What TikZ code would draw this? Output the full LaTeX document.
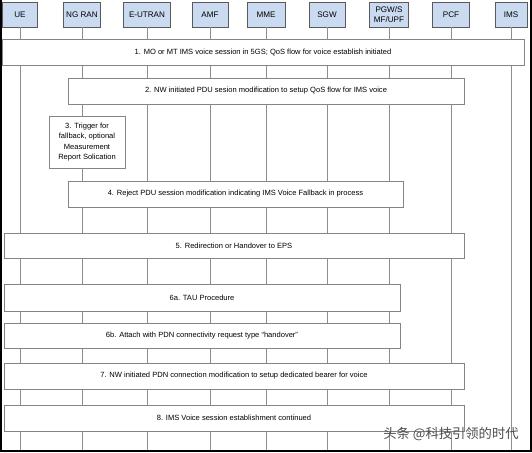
\documentclass[tikz,border=0pt]{standalone}
\usepackage{fontspec}
\setmainfont{Liberation Sans}
\newfontfamily\cjk{Noto Sans CJK SC}
\definecolor{partyblue}{HTML}{C9DAF1}
\definecolor{boxgray}{HTML}{5A5A5A}
\definecolor{stepgray}{HTML}{858585}
\definecolor{lifegray}{HTML}{8E8E8E}
\begin{document}
\begin{tikzpicture}[x=1pt,y=-1pt,font=\fontsize{7.55}{10.6}\selectfont,
  party/.style={draw=boxgray,fill=partyblue,line width=.8pt,minimum height=25pt,inner sep=1pt,align=center,
    font=\fontsize{8.1}{9.6}\selectfont},
  stepbox/.style={draw=stepgray,fill=white,line width=1pt,minimum height=26pt,inner sep=1pt,align=center},
  life/.style={draw=lifegray,line width=.9pt}]
  \useasboundingbox (0,0) rectangle (532,452);
  % participants and lifelines
  \foreach \nm/\x/\w/\lab in {ue/20/35/UE,ngran/82/37/NG RAN,eutran/147/47/E-UTRAN,
      amf/210/36/AMF,mme/266/38/MME,sgw/327/36/SGW,pgw/389/39/{PGW/S\\MF/UPF},
      pcf/451/37/PCF,ims/511/32/IMS}
    {\node[party,minimum width=\w pt] (\nm) at (\x,14.5) {\lab};
     \coordinate (\nm-end) at (\x,452);
     \draw[life] (\nm.south) -- (\nm-end);}
  % steps
  \node[stepbox,minimum width=522pt,minimum height=25pt] (s1) at (263,52.5)
    {1. MO or MT IMS voice session in 5GS; QoS flow for voice establish initiated};
  \node[stepbox,minimum width=396pt] (s2) at (266,91)
    {2. NW initiated PDU sesion modification to setup QoS flow for IMS voice};
  \node[stepbox,minimum width=76pt,minimum height=52pt] (s3) at (87,142)
    {3. Trigger for\\fallback, optional\\Measurement\\Report Solication};
  \node[stepbox,minimum width=335pt] (s4) at (235.5,194)
    {4. Reject PDU session modification indicating IMS Voice Fallback in process};
  \node[stepbox,minimum width=460pt,minimum height=25pt] (s5) at (234,245.5)
    {5. Redirection or Handover to EPS};
  \node[stepbox,minimum width=396pt,minimum height=27pt] (s6a) at (202,297.5)
    {6a. TAU Procedure};
  \node[stepbox,minimum width=396pt,minimum height=25pt] (s6b) at (202,335.5)
    {6b. Attach with PDN connectivity request type ``handover''};
  \node[stepbox,minimum width=460pt] (s7) at (234,376)
    {7. NW initiated PDN connection modification to setup dedicated bearer for voice};
  \node[stepbox,minimum width=460pt] (s8) at (234,418)
    {8. IMS Voice session establishment continued};
  % frame and mark
  \draw[line width=2pt] (1,0) -- (1,451) -- (531,451) -- (531,0);
  \node[text=black!70,font=\cjk\fontsize{13.3}{15}\selectfont] (mark) at (451,434)
    {头条 @科技引领的时代};
\end{tikzpicture}
\end{document}
